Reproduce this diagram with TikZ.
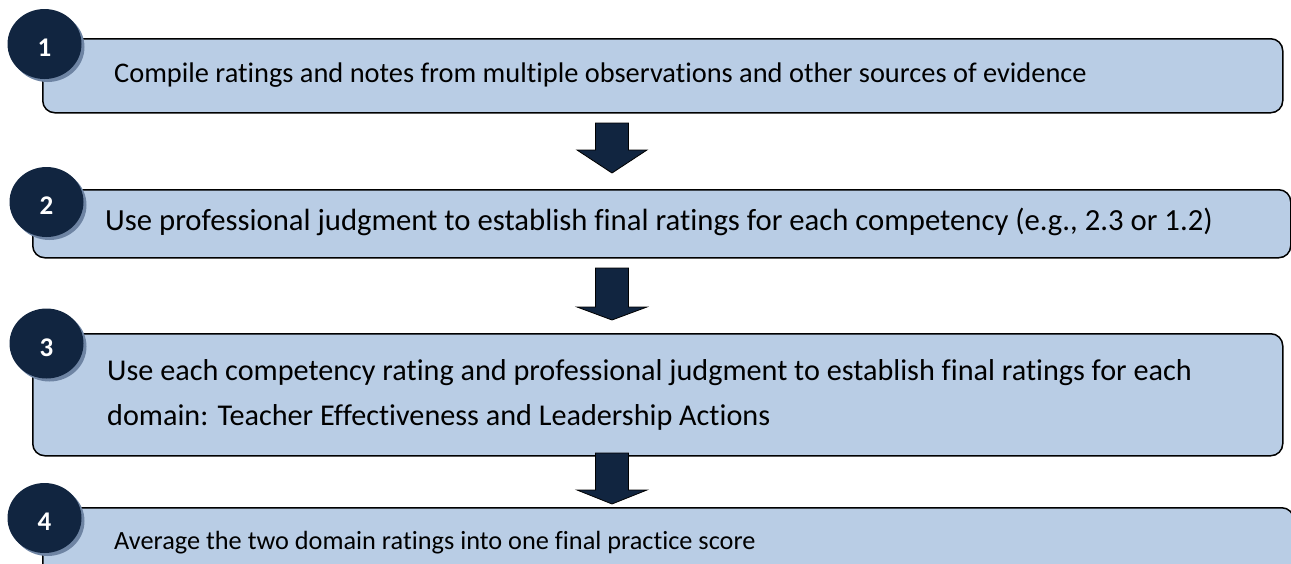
\documentclass[tikz,border=0pt]{standalone}
\usepackage{fontspec}
\setmainfont{Carlito}[Ligatures=NoCommon]
\usetikzlibrary{shapes.geometric,shadows}
\definecolor{navy}{RGB}{17,37,64}
\definecolor{boxfill}{RGB}{185,205,229}
\definecolor{shadowc}{RGB}{110,132,163}
\begin{document}
\begin{tikzpicture}[x=1pt,y=-1pt,
  stepbox/.style={draw=black,line width=1.5pt,fill=boxfill,rounded corners=12pt,inner sep=0pt,anchor=north west},
  numc/.style={ellipse,fill=navy,minimum width=74pt,minimum height=70pt,inner sep=0pt,text=white,
    font=\fontsize{27}{27}\selectfont\bfseries,
    drop shadow={shadow xshift=3pt,shadow yshift=-3pt,opacity=1,fill=shadowc}},
  steptext/.style={anchor=base west,font=\fontsize{#1}{45}\selectfont,inner sep=0pt,align=left},
  blockarrow/.style={draw=black,line width=0.8pt,fill=navy,line join=miter}]
\useasboundingbox (0,0) rectangle (1291,563);
\clip (0,0) rectangle (1291,563);
% boxes
\node[stepbox,minimum width=1240pt,minimum height=74pt] (b1) at (42,38) {};
\node[stepbox,minimum width=1258pt,minimum height=68pt] (b2) at (32,189) {};
\node[stepbox,minimum width=1250pt,minimum height=122pt] (b3) at (32,333) {};
\node[stepbox,minimum width=1251pt,minimum height=74pt] (b4) at (42,507) {};
% texts
\node[steptext=28.4] (t1) at ([shift={(72,44)}]b1.north west) {Compile ratings and notes from multiple observations and other sources of evidence};
\node[steptext=30.7] (t2) at ([shift={(73,41)}]b2.north west) {Use professional judgment to establish final ratings for each competency (e.g., 2.3 or 1.2)};
\node[steptext=30.2,anchor=west] (t3) at ([xshift=75pt]b3.west) {Use each competency rating and professional judgment to establish final ratings for each\\domain: Teacher Effectiveness and Leadership Actions};
\node[steptext=26.3] (t4) at ([shift={(72,42)}]b4.north west) {Average the two domain ratings into one final practice score};
% arrows
\filldraw[blockarrow] (595.5,123) -- (628.5,123) -- (628.5,150) -- (647,150) -- (612,173) -- (577,150) -- (595.5,150) -- cycle;
\filldraw[blockarrow] (595.5,268) -- (628.5,268) -- (628.5,307) -- (647,307) -- (612,320) -- (577,307) -- (595.5,307) -- cycle;
\filldraw[blockarrow] (595.5,453) -- (628.5,453) -- (628.5,490) -- (647,490) -- (612,504) -- (577,490) -- (595.5,490) -- cycle;
% number badges
\node[numc] (n1) at (44.5,44) {\raisebox{-4pt}[\height][0pt]{1}};
\node[numc] (n2) at (46.5,202) {\raisebox{-4pt}[\height][0pt]{2}};
\node[numc] (n3) at (46.5,343.5) {\raisebox{-4pt}[\height][0pt]{3}};
\node[numc] (n4) at (44.5,518) {\raisebox{-4pt}[\height][0pt]{4}};
\end{tikzpicture}
\end{document}
